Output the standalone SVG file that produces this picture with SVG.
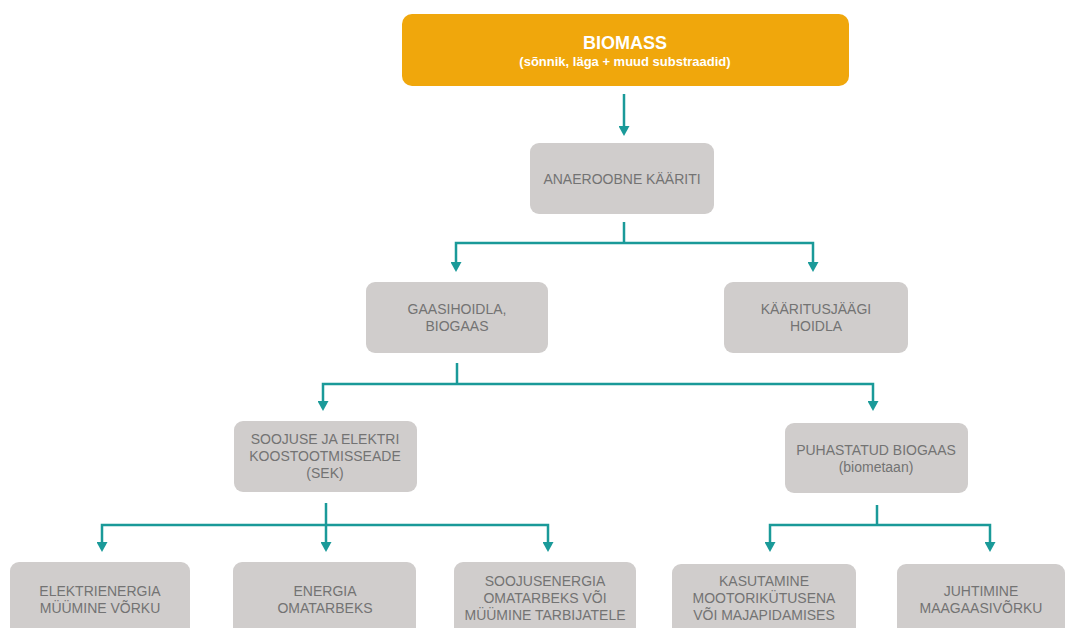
<svg xmlns="http://www.w3.org/2000/svg" width="1071" height="628" viewBox="0 0 1071 628">
<defs>
<marker id="ah" markerUnits="userSpaceOnUse" markerWidth="10" markerHeight="11" refX="5" refY="5.5" orient="auto" viewBox="0 0 10 11">
<path d="M0,0 L10,5.5 L0,11 Z" fill="#1a9a99"/>
</marker>
<style>
.box{fill:#d0cdcc}
.t{font-family:"Liberation Sans",Arial,sans-serif;font-size:14px;fill:#737373;text-anchor:middle}
.c{fill:none;stroke:#1a9a99;stroke-width:2.5}
</style>
</defs>
<rect width="1071" height="628" fill="#ffffff"/>
<g id="biomass">
<rect x="402" y="14" width="447" height="72" rx="10" fill="#f0a70c"/>
<text x="625" y="49" font-family="'Liberation Sans',Arial,sans-serif" font-size="18" font-weight="bold" fill="#ffffff" text-anchor="middle">BIOMASS</text>
<text x="625" y="66" font-family="'Liberation Sans',Arial,sans-serif" font-size="13" font-weight="bold" fill="#ffffff" text-anchor="middle">(sõnnik, läga + muud substraadid)</text>
</g>
<g id="kaariti">
<rect class="box" x="530" y="143" width="184" height="71" rx="9"/>
<text class="t" x="622" y="184">ANAEROOBNE KÄÄRITI</text>
</g>
<g id="gaasihoidla">
<rect class="box" x="366" y="282" width="182" height="71" rx="9"/>
<text class="t" x="457" y="314">GAASIHOIDLA,</text>
<text class="t" x="457" y="331">BIOGAAS</text>
</g>
<g id="kaaritusjaak">
<rect class="box" x="724" y="282" width="184" height="71" rx="9"/>
<text class="t" x="816" y="314">KÄÄRITUSJÄÄGI</text>
<text class="t" x="816" y="331">HOIDLA</text>
</g>
<g id="sek">
<rect class="box" x="234" y="421" width="183" height="71" rx="9"/>
<text class="t" x="325" y="444">SOOJUSE JA ELEKTRI</text>
<text class="t" x="325" y="461">KOOSTOOTMISSEADE</text>
<text class="t" x="325" y="478">(SEK)</text>
</g>
<g id="biometaan">
<rect class="box" x="785" y="423" width="183" height="70" rx="9"/>
<text class="t" x="876" y="455">PUHASTATUD BIOGAAS</text>
<text class="t" x="876" y="472">(biometaan)</text>
</g>
<g id="elekter">
<rect class="box" x="10" y="562" width="180" height="75" rx="9"/>
<text class="t" x="100" y="596">ELEKTRIENERGIA</text>
<text class="t" x="100" y="613">MÜÜMINE VÕRKU</text>
</g>
<g id="omatarve">
<rect class="box" x="233" y="562" width="183" height="75" rx="9"/>
<text class="t" x="325" y="596">ENERGIA</text>
<text class="t" x="325" y="613">OMATARBEKS</text>
</g>
<g id="soojus">
<rect class="box" x="454" y="562" width="182" height="75" rx="9"/>
<text class="t" x="545" y="586">SOOJUSENERGIA</text>
<text class="t" x="545" y="603">OMATARBEKS VÕI</text>
<text class="t" x="545" y="620">MÜÜMINE TARBIJATELE</text>
</g>
<g id="mootor">
<rect class="box" x="672" y="564" width="184" height="75" rx="9"/>
<text class="t" x="764" y="586">KASUTAMINE</text>
<text class="t" x="764" y="603">MOOTORIKÜTUSENA</text>
<text class="t" x="764" y="620">VÕI MAJAPIDAMISES</text>
</g>
<g id="maagaas">
<rect class="box" x="897" y="564" width="168" height="75" rx="9"/>
<text class="t" x="981" y="596">JUHTIMINE</text>
<text class="t" x="981" y="613">MAAGAASIVÕRKU</text>
</g>
<g id="connectors">
<path class="c" d="M624,94 V131" marker-end="url(#ah)"/>
<path class="c" d="M624,222 V243"/>
<path class="c" d="M624,243 H456 V267" marker-end="url(#ah)"/>
<path class="c" d="M624,243 H813 V267" marker-end="url(#ah)"/>
<path class="c" d="M457,363 V384"/>
<path class="c" d="M457,384 H323 V406" marker-end="url(#ah)"/>
<path class="c" d="M457,384 H873 V406" marker-end="url(#ah)"/>
<path class="c" d="M326,503 V547" marker-end="url(#ah)"/>
<path class="c" d="M326,525 H102 V547" marker-end="url(#ah)"/>
<path class="c" d="M326,525 H548 V547" marker-end="url(#ah)"/>
<path class="c" d="M877,505 V525"/>
<path class="c" d="M877,525 H770 V547" marker-end="url(#ah)"/>
<path class="c" d="M877,525 H990 V547" marker-end="url(#ah)"/>
</g>
</svg>
